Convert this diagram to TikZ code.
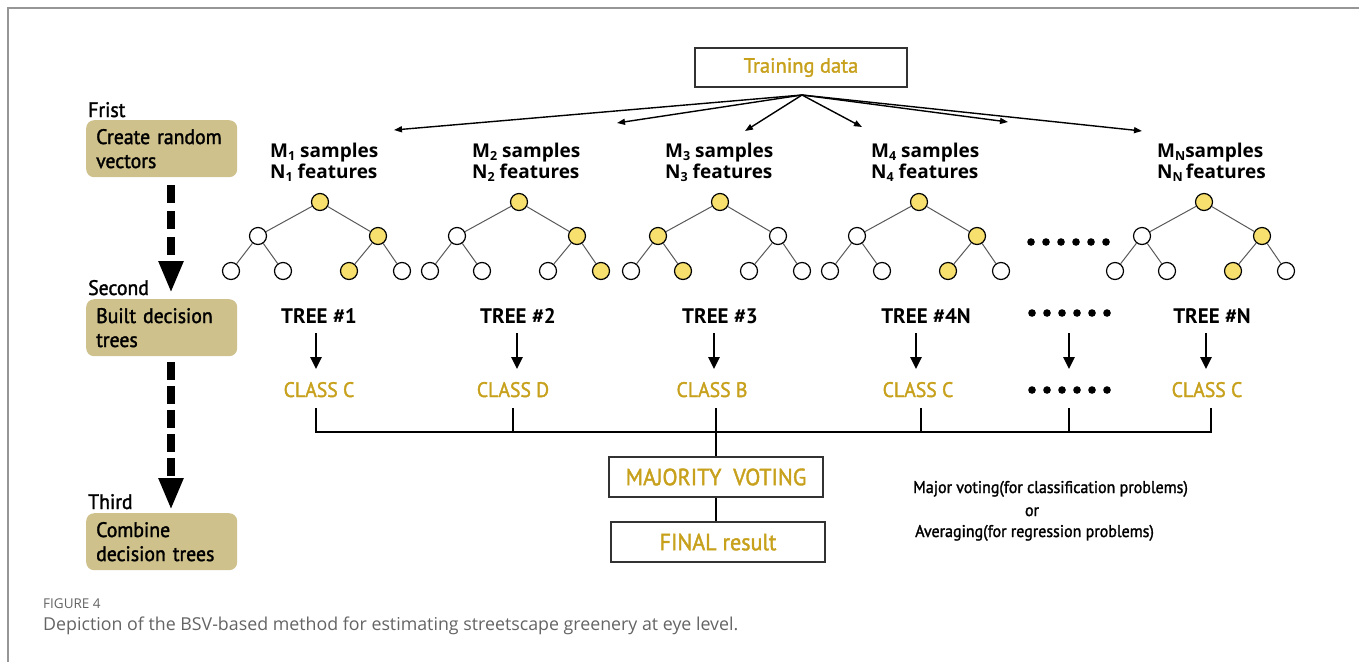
\documentclass[tikz,border=0pt]{standalone}
\usepackage{fontspec}
\setmainfont{PT Sans}
\newfontfamily\semi{PT Sans}[FakeBold=1.6]
\newfontfamily\semin{PT Sans}[FakeBold=1.6,FakeStretch=0.94]
\newfontfamily\osans{Open Sans}
\usetikzlibrary{arrows.meta}
\definecolor{gold}{RGB}{199,160,28}
\definecolor{tanbox}{RGB}{206,193,140}
\definecolor{ny}{RGB}{248,224,110}
\definecolor{nw}{RGB}{255,255,255}
\definecolor{capgray}{RGB}{100,100,100}
\definecolor{framegray}{RGB}{150,150,150}
\definecolor{boxline}{RGB}{50,50,50}
\newcommand\fs[2]{\fontsize{#1}{#2}\selectfont}
\newcommand\sbx[1]{\raisebox{-0.35ex}{\fontsize{12.5}{12.5}\selectfont #1}}
\newcommand\mytree[9]{%
  \node[tnode,fill=#3] (#1r) at (#2,202) {};
  \node[tnode,fill=#4] (#1a) at ({#2-62},236) {};
  \node[tnode,fill=#5] (#1b) at ({#2+58},236) {};
  \node[tnode,fill=#6] (#1c) at ({#2-89},271) {};
  \node[tnode,fill=#7] (#1d) at ({#2-37},271) {};
  \node[tnode,fill=#8] (#1e) at ({#2+29},271) {};
  \node[tnode,fill=#9] (#1f) at ({#2+82},271) {};
  \draw[tedge] (#1r) -- (#1a) (#1r) -- (#1b) (#1a) -- (#1c) (#1a) -- (#1d) (#1b) -- (#1e) (#1b) -- (#1f);
}
\begin{document}
\begin{tikzpicture}[x=1pt,y=-1pt,
  tnode/.style={circle,draw=black,line width=1.2pt,minimum size=17pt,inner sep=0pt},
  tedge/.style={draw=black!65,line width=1pt},
  stepbox/.style={fill=tanbox,rounded corners=8pt,text width=131pt,inner xsep=10pt,inner ysep=0pt,minimum height=57pt,align=left,font=\semin\fs{21}{24},anchor=north west},
  steplab/.style={font=\semin\fs{21}{24},anchor=base west,inner sep=0pt},
  flowbox/.style={draw=boxline,line width=1.8pt,inner sep=0pt,text=gold},
  trainarr/.style={line width=1.4pt,-{Triangle[length=8pt,width=6pt]}},
  downarr/.style={line width=2.6pt,-{Triangle[length=12pt,width=11pt]}},
  dasharr/.style={line width=8pt,-{Triangle[length=32pt,width=23pt]}},
  barline/.style={line width=2pt},
  mlab/.style={font=\osans\bfseries\fs{19}{19},anchor=base west,inner sep=0pt},
  treelab/.style={font=\bfseries\fs{21}{21},anchor=base,inner sep=0pt},
  classlab/.style={font=\semin\fs{21}{21},text=gold,anchor=base,inner sep=0pt},
  notelab/.style={font=\semin\fs{17}{17},inner sep=0pt},
]
\useasboundingbox (0,0) rectangle (1359,662);
% frame
\draw[framegray,line width=1.5pt] (1359,8) -- (8,8) -- (8,662);

% left column
\node[steplab] (l1) at (88,117) {Frist};
\node[stepbox] (s1) at (86,120) {Create random\\vectors};
\node[steplab] (l2) at (88,295) {Second};
\node[stepbox] (s2) at (86,299) {Built decision\\trees};
\node[steplab] (l3) at (88,509) {Third};
\node[stepbox] (s3) at (86,513) {Combine\\decision trees};
\coordinate (da1s) at (171,185);
\coordinate (da1e) at (171,293);
\coordinate (da2s) at (171,362);
\coordinate (da2e) at (171,510);
\draw[dasharr,dash pattern=on 18pt off 8pt] (da1s) -- (da1e);
\draw[dasharr,dash pattern=on 18pt off 6pt] (da2s) -- (da2e);

% training data
\node[flowbox,line width=1.5pt,minimum width=212pt,minimum height=39pt,font=\semi\fs{20.5}{20.5}] (td) at (801,67.5) {Training data};
\coordinate (o) at (802,95);
\coordinate (t1) at (394,130);
\coordinate (t2) at (617,123);
\coordinate (t3) at (745,131);
\coordinate (t4) at (862,127);
\coordinate (t5) at (1008,122);
\coordinate (t6) at (1142,131);
\foreach \k in {1,...,6} {\draw[trainarr] (o) -- (t\k);}

% sample labels
\node[mlab] (m1) at (270,157) {M\sbx{1} samples};
\node[mlab] (n1) at (270,178) {N\sbx{1} features};
\node[mlab] (m2) at (472,157) {M\sbx{2} samples};
\node[mlab] (n2) at (472,178) {N\sbx{2} features};
\node[mlab] (m3) at (665,157) {M\sbx{3} samples};
\node[mlab] (n3) at (665,178) {N\sbx{3} features};
\node[mlab] (m4) at (871,157) {M\sbx{4} samples};
\node[mlab] (n4) at (871,178) {N\sbx{4} features};
\node[mlab] (m6) at (1157,157) {M\sbx{N}samples};
\node[mlab] (n6) at (1157,178) {N\sbx{N}\,features};

% trees
\mytree{a}{320}{ny}{nw}{ny}{nw}{nw}{ny}{nw}
\mytree{b}{519}{ny}{nw}{ny}{nw}{nw}{nw}{ny}
\mytree{c}{720}{ny}{ny}{nw}{nw}{ny}{nw}{nw}
\mytree{d}{919}{ny}{nw}{ny}{nw}{nw}{ny}{nw}
\mytree{e}{1204}{ny}{nw}{ny}{nw}{nw}{ny}{nw}
\foreach \i in {0,...,5} {\fill ({1031+15*\i},242) circle (3.8pt);}

% tree labels
\node[treelab] (tl1) at (319,323) {TREE \#1};
\node[treelab] (tl2) at (518,323) {TREE \#2};
\node[treelab] (tl3) at (720,323) {TREE \#3};
\node[treelab] (tl4) at (926,323) {TREE \#4N};
\node[treelab] (tl6) at (1212,323) {TREE \#N};
\foreach \i in {0,...,5} {\fill ({1032+15*\i},313) circle (3.8pt);}

% down arrows
\foreach \k/\x in {1/316,2/517,3/714,4/916,5/1069,6/1206} {
  \coordinate (dt\k) at (\x,333);
  \coordinate (db\k) at (\x,369);
  \draw[downarr] (dt\k) -- (db\k);
}

% class labels
\node[classlab] (cl1) at (319,397) {CLASS C};
\node[classlab] (cl2) at (513,397) {CLASS D};
\node[classlab] (cl3) at (712,397) {CLASS B};
\node[classlab] (cl4) at (918,397) {CLASS C};
\node[classlab] (cl6) at (1207,397) {CLASS C};
\foreach \i in {0,...,5} {\fill ({1032+15*\i},390) circle (3.8pt);}

% voting bar
\foreach \k/\x in {1/316,2/513,3/716,4/921,5/1069,6/1211} {
  \coordinate (kt\k) at (\x,408);
  \coordinate (kb\k) at (\x,432);
}
\draw[barline] (kt1) -- (kb1) -- (kb6) -- (kt6);
\foreach \k in {2,4,5} {\draw[barline] (kt\k) -- (kb\k);}

\node[flowbox,minimum width=214pt,minimum height=40pt,font=\semin\fs{23.5}{23.5}] (mv) at (716,477) {MAJORITY\ \ VOTING};
\node[flowbox,minimum width=214pt,minimum height=40pt,font=\semin\fs{23.5}{23.5}] (fin) at (718,542) {FINAL result};
\draw[barline] (kt3) -- (mv.north);
\draw[barline] (mv.south) -- (mv.south |- fin.north);

% note
\node[notelab,anchor=base west] (nt1) at (913,493) {Major voting(for classification problems)};
\node[notelab,anchor=base] (nt2) at (1032,516) {or};
\node[notelab,anchor=base west] (nt3) at (915,537) {Averaging(for regression problems)};

% caption
\node[font=\osans\fs{13.5}{13.5},text=capgray,anchor=base west,inner sep=0pt] (fig) at (43,608) {FIGURE 4};
\node[font=\osans\fs{17.8}{17.8},text=capgray,anchor=base west,inner sep=0pt] (cap) at (43,630) {Depiction of the BSV-based method for estimating streetscape greenery at eye level.};
\end{tikzpicture}
\end{document}
